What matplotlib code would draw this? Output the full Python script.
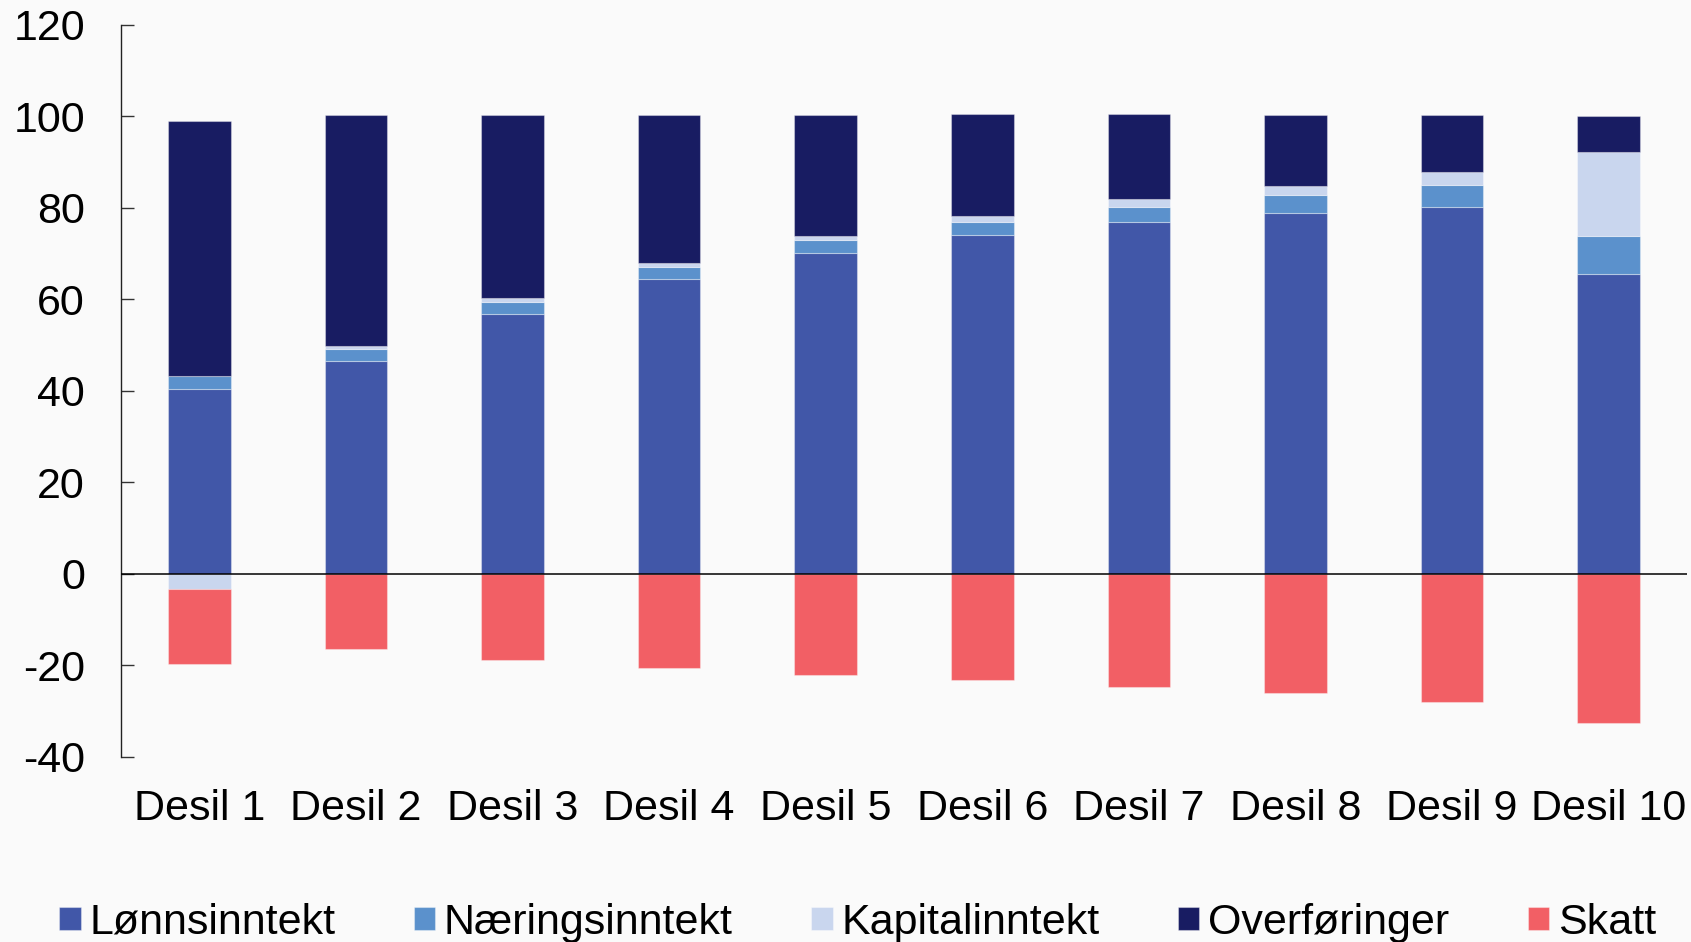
import matplotlib
matplotlib.use("Agg")
import matplotlib.pyplot as plt
import numpy as np

# --- data ---
DESILER = ["Desil 1", "Desil 2", "Desil 3", "Desil 4", "Desil 5",
           "Desil 6", "Desil 7", "Desil 8", "Desil 9", "Desil 10"]
LONN     = [40.5, 46.6, 56.9, 64.5, 70.2, 74.2, 77.0, 79.0, 80.3, 65.6]
NARING   = [2.7, 2.6, 2.6, 2.5, 2.7, 2.7, 3.3, 3.8, 4.7, 8.2]
KAPITAL  = [-3.3, 0.6, 0.8, 1.0, 1.0, 1.4, 1.6, 2.0, 2.9, 18.4]
OVERF    = [55.8, 50.5, 40.0, 32.4, 26.5, 22.2, 18.6, 15.6, 12.4, 7.9]
SKATT    = [-16.4, -16.5, -18.9, -20.6, -22.0, -23.2, -24.6, -26.1, -28.0, -32.6]

SERIES = [("Lønnsinntekt", LONN, "#4157A8"),
          ("Næringsinntekt", NARING, "#5B91CC"),
          ("Kapitalinntekt", KAPITAL, "#C9D6EE"),
          ("Overføringer", OVERF, "#181C62"),
          ("Skatt", SKATT, "#F25F65")]

BG = "#FAFAFA"
plt.rcParams["font.family"] = ["Liberation Sans", "DejaVu Sans"]
plt.rcParams["axes.unicode_minus"] = False

fig = plt.figure(figsize=(16.91, 9.42), dpi=100, facecolor=BG)
ax = fig.add_axes([0.0716, 0.1964, 0.926, 0.7771], facecolor=BG)

x = np.arange(len(DESILER))
pos = np.zeros(len(DESILER))
neg = np.zeros(len(DESILER))
handles = []
for name, vals, color in SERIES:
    vals = np.asarray(vals, dtype=float)
    bottom = np.where(vals >= 0, pos, neg)
    b = ax.bar(x, vals, width=0.4, bottom=bottom, color=color,
               edgecolor=(1, 1, 1, 0.35), linewidth=0.8, label=name)
    handles.append(b)
    pos += np.where(vals >= 0, vals, 0)
    neg += np.where(vals < 0, vals, 0)

ax.axhline(0, color="black", lw=1.1, zorder=3)

ax.set_xlim(-0.5, 9.5)
ax.set_ylim(-40, 120)
ax.set_yticks(range(-40, 121, 20))
ax.set_xticks(x)
ax.set_xticklabels(DESILER)

for s in ("top", "right", "bottom"):
    ax.spines[s].set_visible(False)
ax.spines["left"].set_color("#222222")
ax.spines["left"].set_linewidth(1.0)

ax.tick_params(axis="y", direction="in", length=9.5, width=1.0,
               color="#333333", labelsize=31, pad=26)
ax.tick_params(axis="x", length=0, labelsize=31, pad=23)

fig.legend(handles=handles, loc="center left",
           bbox_to_anchor=(0.0349, 0.0205), ncol=5, frameon=False,
           fontsize=31, handlelength=0.5, handleheight=0.45,
           handletextpad=0.2, columnspacing=1.82, borderpad=0,
           borderaxespad=0)

fig.savefig("out.png", dpi=100, facecolor=BG)
